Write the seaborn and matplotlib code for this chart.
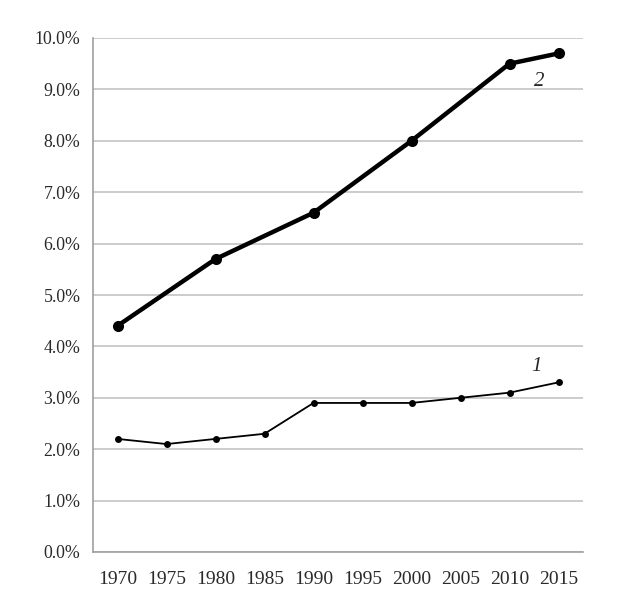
import matplotlib
matplotlib.use("Agg")
import matplotlib.pyplot as plt
import seaborn as sns
import pandas as pd
import numpy as np
from matplotlib.ticker import FuncFormatter, FixedLocator

years = [1970, 1975, 1980, 1985, 1990, 1995, 2000, 2005, 2010, 2015]
series1 = [2.2, 2.1, 2.2, 2.3, 2.9, 2.9, 2.9, 3.0, 3.1, 3.3]
years2 = [1970, 1980, 1990, 2000, 2010, 2015]
series2 = [4.4, 5.7, 6.6, 8.0, 9.5, 9.7]
yticks = [0, 1, 2, 3, 4, 5, 6, 7, 8, 9, 10]

sns.set_theme(style="white")
plt.rcParams['font.family'] = ['Liberation Serif', 'DejaVu Serif']

df1 = pd.DataFrame({"pos": [years.index(y) for y in years], "val": series1})
df2 = pd.DataFrame({"pos": [years.index(y) for y in years2], "val": series2})

fig = plt.figure(figsize=(6.27, 6.0), dpi=100)
ax = fig.add_axes([93/627, 1-552/600, 490/627, (552-38)/600])

sns.lineplot(data=df1, x="pos", y="val", ax=ax, color="black", linewidth=1.3,
             marker="o", markersize=5, markeredgewidth=0)
sns.lineplot(data=df2, x="pos", y="val", ax=ax, color="black", linewidth=3.2,
             marker="o", markersize=8, markeredgewidth=0)

ax.set_xlim(-0.5, len(years) - 0.5)
ax.set_ylim(0, 10)
ax.set_xticks(range(len(years)))
ax.set_xticklabels([str(y) for y in years], fontsize=14, color="#2a2a2a")
ax.xaxis.set_minor_locator(FixedLocator(np.arange(-0.5, len(years), 1.0)))
ax.tick_params(axis="x", which="major", length=0, pad=14)
ax.tick_params(axis="x", which="minor", length=5, color="#a0a0a0", width=1, direction="out")
ax.set_yticks(yticks)
ax.yaxis.set_major_formatter(FuncFormatter(lambda v, p: f"{v:.1f}%"))
ax.tick_params(axis="y", length=5, color="#a0a0a0", width=1, direction="out", labelsize=12.8,
               labelcolor="#2a2a2a", pad=4)
ax.grid(axis="y", color="#c4c4c4", linewidth=1.2)
ax.set_axisbelow(True)
for s in ["top", "right"]:
    ax.spines[s].set_visible(False)
for s in ["left", "bottom"]:
    ax.spines[s].set_color("#a0a0a0")
    ax.spines[s].set_linewidth(1.2)
ax.set_xlabel("")
ax.set_ylabel("")

ax.text(8.6, 9.15, "2", fontsize=15, style="italic", ha="center", va="center")
ax.text(8.55, 3.6, "1", fontsize=15, style="italic", ha="center", va="center")

fig.savefig("out.png", dpi=100, facecolor="white")
